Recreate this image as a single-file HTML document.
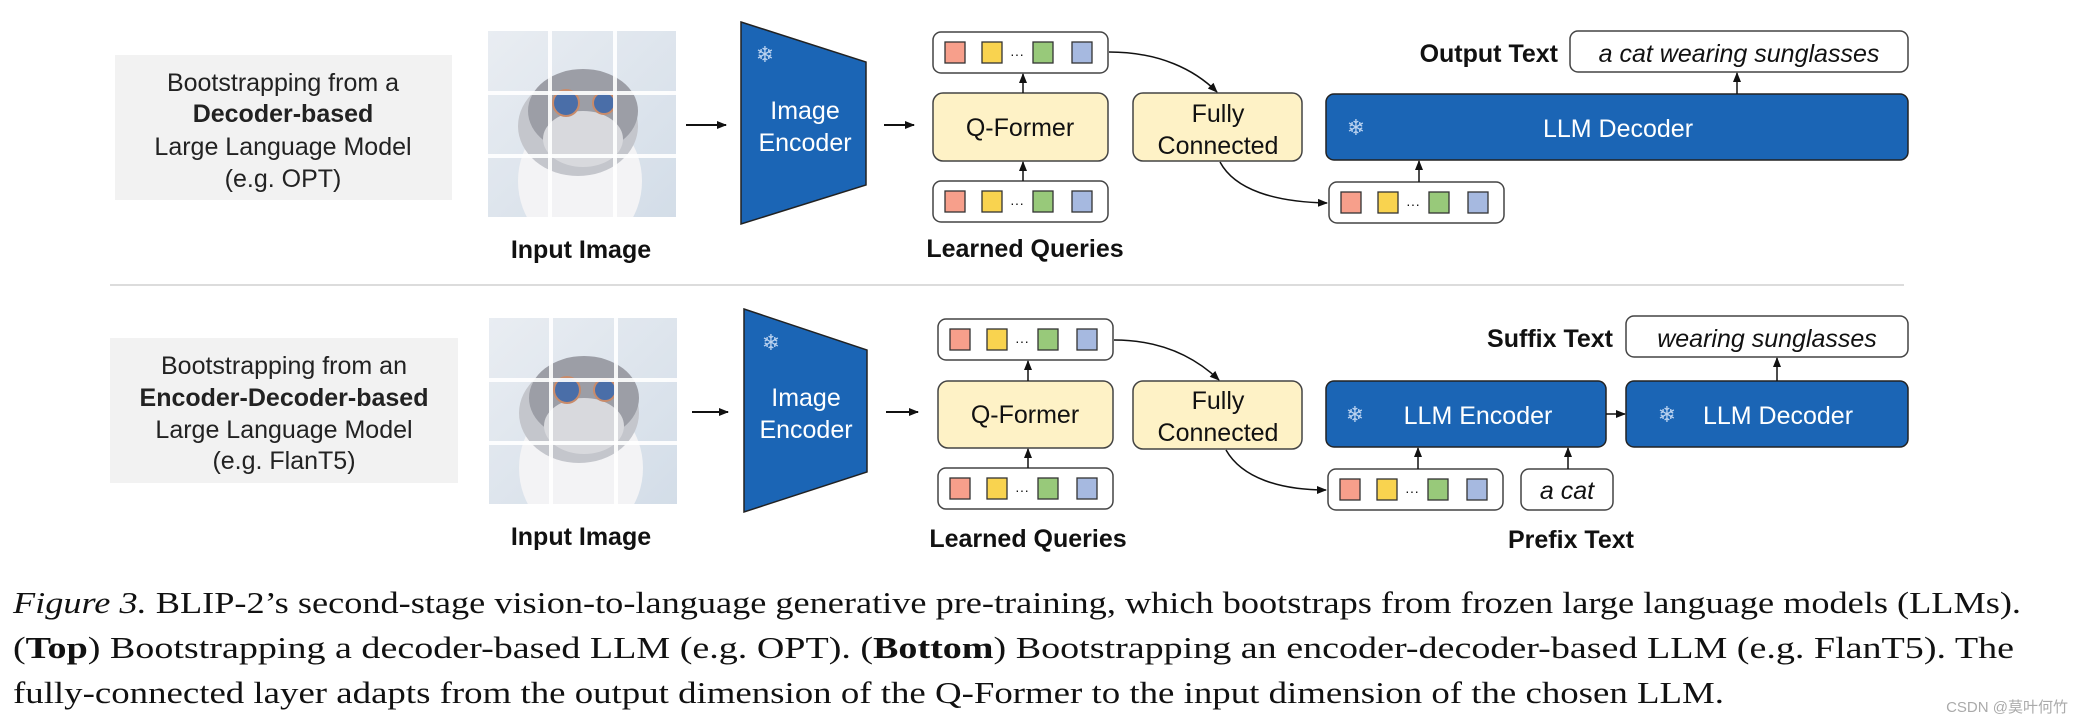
<!DOCTYPE html>
<html><head><meta charset="utf-8"><style>
html,body{margin:0;padding:0;background:#fff;}
svg{display:block;}
</style></head><body>
<svg width="2082" height="724" viewBox="0 0 2082 724" xmlns="http://www.w3.org/2000/svg" font-family="Liberation Sans, sans-serif">
<defs>
<marker id="ah" markerWidth="10" markerHeight="10" refX="9" refY="5" orient="auto" markerUnits="userSpaceOnUse">
<path d="M0,1 L10,5 L0,9 z" fill="#111"/></marker>
<linearGradient id="bg" x1="0" y1="0" x2="1" y2="1"><stop offset="0" stop-color="#e9edf2"/><stop offset="1" stop-color="#d3dde8"/></linearGradient>
<clipPath id="cc"><rect x="0" y="0" width="188" height="186"/></clipPath>
<g id="cat">
<g clip-path="url(#cc)">
<rect x="0" y="0" width="188" height="186" fill="url(#bg)"/>
<ellipse cx="92" cy="150" rx="62" ry="70" fill="#f3f3f5"/>
<ellipse cx="90" cy="95" rx="60" ry="50" fill="#c4c6cc"/>
<ellipse cx="95" cy="80" rx="55" ry="42" fill="#9c9ea6"/>
<ellipse cx="95" cy="108" rx="40" ry="28" fill="#d8d9dd"/>
<circle cx="78" cy="72" r="13" fill="#4a6ea8" stroke="#c98b6a" stroke-width="2"/>
<circle cx="116" cy="72" r="11" fill="#4a6ea8" stroke="#c98b6a" stroke-width="2"/>
<rect x="60" y="0" width="4" height="186" fill="#fff" opacity="0.9"/>
<rect x="125" y="0" width="4" height="186" fill="#fff" opacity="0.9"/>
<rect x="0" y="60" width="188" height="4" fill="#fff" opacity="0.9"/>
<rect x="0" y="123" width="188" height="4" fill="#fff" opacity="0.9"/>
</g>
</g>
<g id="tok">
<rect x="0" y="0" width="175" height="41" rx="8" fill="#fff" stroke="#444" stroke-width="1.5"/>
<rect x="12" y="10" width="20" height="21" fill="#F79F8B" stroke="#333" stroke-width="1.3"/>
<rect x="49" y="10" width="20" height="21" fill="#F9D34F" stroke="#333" stroke-width="1.3"/>
<text x="84" y="27" font-size="14" fill="#111" text-anchor="middle">···</text>
<rect x="100" y="10" width="20" height="21" fill="#98C97A" stroke="#333" stroke-width="1.3"/>
<rect x="139" y="10" width="20" height="21" fill="#A6B9E0" stroke="#333" stroke-width="1.3"/>
</g>
</defs>

<!-- ============ TOP ============ -->
<rect x="115" y="55" width="337" height="145" fill="#f2f2f2"/>
<g font-size="25" fill="#222" text-anchor="middle">
<text x="283" y="91">Bootstrapping from a</text>
<text x="283" y="122" font-weight="bold">Decoder-based</text>
<text x="283" y="155">Large Language Model</text>
<text x="283" y="187">(e.g. OPT)</text>
</g>
<use href="#cat" x="488" y="31"/>
<text x="581" y="258" font-size="25" font-weight="bold" text-anchor="middle" fill="#111">Input Image</text>
<line x1="686" y1="125" x2="726" y2="125" stroke="#111" stroke-width="2" marker-end="url(#ah)"/>
<polygon points="741,22 866,62 866,185 741,224" fill="#1B65B5" stroke="#222" stroke-width="1.5"/>
<text x="765" y="62" font-size="22" fill="#bcd3f0" text-anchor="middle" font-family="DejaVu Sans">❄</text>
<text x="805" y="119" font-size="25" fill="#fff" text-anchor="middle">Image</text>
<text x="805" y="151" font-size="25" fill="#fff" text-anchor="middle">Encoder</text>
<line x1="884" y1="125" x2="914" y2="125" stroke="#111" stroke-width="2" marker-end="url(#ah)"/>
<use href="#tok" x="933" y="32"/>
<rect x="933" y="93" width="175" height="68" rx="10" fill="#FEF2C6" stroke="#444" stroke-width="1.5"/>
<text x="1020" y="136" font-size="25" text-anchor="middle" fill="#111">Q-Former</text>
<use href="#tok" x="933" y="181"/>
<line x1="1023" y1="181" x2="1023" y2="162" stroke="#111" stroke-width="1.5" marker-end="url(#ah)"/>
<line x1="1023" y1="93" x2="1023" y2="74" stroke="#111" stroke-width="1.5" marker-end="url(#ah)"/>
<text x="1025" y="257" font-size="25" font-weight="bold" text-anchor="middle" fill="#111">Learned Queries</text>
<rect x="1133" y="93" width="169" height="68" rx="10" fill="#FEF2C6" stroke="#444" stroke-width="1.5"/>
<text x="1218" y="122" font-size="25" text-anchor="middle" fill="#111">Fully</text>
<text x="1218" y="154" font-size="25" text-anchor="middle" fill="#111">Connected</text>
<path d="M1109,52 C1160,52 1195,70 1217,92" fill="none" stroke="#111" stroke-width="1.5" marker-end="url(#ah)"/>
<path d="M1220,162 C1235,190 1275,202 1327,203" fill="none" stroke="#111" stroke-width="1.5" marker-end="url(#ah)"/>
<rect x="1326" y="94" width="582" height="66" rx="8" fill="#1B65B5" stroke="#222" stroke-width="1.5"/>
<text x="1356" y="135" font-size="22" fill="#bcd3f0" text-anchor="middle" font-family="DejaVu Sans">❄</text>
<text x="1618" y="137" font-size="25" fill="#fff" text-anchor="middle">LLM Decoder</text>
<use href="#tok" x="1329" y="182"/>
<line x1="1419" y1="182" x2="1419" y2="161" stroke="#111" stroke-width="1.5" marker-end="url(#ah)"/>
<rect x="1570" y="31" width="338" height="41" rx="8" fill="#fff" stroke="#444" stroke-width="1.5"/>
<text x="1739" y="62" font-size="25" font-style="italic" text-anchor="middle" fill="#111">a cat wearing sunglasses</text>
<text x="1558" y="62" font-size="25" font-weight="bold" text-anchor="end" fill="#111">Output Text</text>
<line x1="1737" y1="94" x2="1737" y2="73" stroke="#111" stroke-width="1.5" marker-end="url(#ah)"/>

<line x1="110" y1="285" x2="1904" y2="285" stroke="#d0d0d0" stroke-width="1.5"/>

<!-- ============ BOTTOM ============ -->
<rect x="110" y="338" width="348" height="145" fill="#f2f2f2"/>
<g font-size="25" fill="#222" text-anchor="middle">
<text x="284" y="374">Bootstrapping from an</text>
<text x="284" y="406" font-weight="bold">Encoder-Decoder-based</text>
<text x="284" y="438">Large Language Model</text>
<text x="284" y="469">(e.g. FlanT5)</text>
</g>
<use href="#cat" x="489" y="318"/>
<text x="581" y="545" font-size="25" font-weight="bold" text-anchor="middle" fill="#111">Input Image</text>
<line x1="692" y1="412" x2="728" y2="412" stroke="#111" stroke-width="2" marker-end="url(#ah)"/>
<polygon points="744,309 867,350 867,472 744,512" fill="#1B65B5" stroke="#222" stroke-width="1.5"/>
<text x="771" y="350" font-size="22" fill="#bcd3f0" text-anchor="middle" font-family="DejaVu Sans">❄</text>
<text x="806" y="406" font-size="25" fill="#fff" text-anchor="middle">Image</text>
<text x="806" y="438" font-size="25" fill="#fff" text-anchor="middle">Encoder</text>
<line x1="886" y1="412" x2="918" y2="412" stroke="#111" stroke-width="2" marker-end="url(#ah)"/>
<use href="#tok" x="938" y="319"/>
<rect x="938" y="381" width="175" height="67" rx="10" fill="#FEF2C6" stroke="#444" stroke-width="1.5"/>
<text x="1025" y="423" font-size="25" text-anchor="middle" fill="#111">Q-Former</text>
<use href="#tok" x="938" y="468"/>
<line x1="1028" y1="468" x2="1028" y2="449" stroke="#111" stroke-width="1.5" marker-end="url(#ah)"/>
<line x1="1028" y1="381" x2="1028" y2="361" stroke="#111" stroke-width="1.5" marker-end="url(#ah)"/>
<text x="1028" y="547" font-size="25" font-weight="bold" text-anchor="middle" fill="#111">Learned Queries</text>
<rect x="1133" y="381" width="169" height="68" rx="10" fill="#FEF2C6" stroke="#444" stroke-width="1.5"/>
<text x="1218" y="409" font-size="25" text-anchor="middle" fill="#111">Fully</text>
<text x="1218" y="441" font-size="25" text-anchor="middle" fill="#111">Connected</text>
<path d="M1114,340 C1165,340 1198,360 1219,380" fill="none" stroke="#111" stroke-width="1.5" marker-end="url(#ah)"/>
<path d="M1226,450 C1242,478 1280,490 1326,490" fill="none" stroke="#111" stroke-width="1.5" marker-end="url(#ah)"/>
<rect x="1326" y="381" width="280" height="66" rx="8" fill="#1B65B5" stroke="#222" stroke-width="1.5"/>
<text x="1355" y="422" font-size="22" fill="#bcd3f0" text-anchor="middle" font-family="DejaVu Sans">❄</text>
<text x="1478" y="424" font-size="25" fill="#fff" text-anchor="middle">LLM Encoder</text>
<line x1="1606" y1="414" x2="1625" y2="414" stroke="#111" stroke-width="1.5" marker-end="url(#ah)"/>
<rect x="1626" y="381" width="282" height="66" rx="8" fill="#1B65B5" stroke="#222" stroke-width="1.5"/>
<text x="1667" y="422" font-size="22" fill="#bcd3f0" text-anchor="middle" font-family="DejaVu Sans">❄</text>
<text x="1778" y="424" font-size="25" fill="#fff" text-anchor="middle">LLM Decoder</text>
<use href="#tok" x="1328" y="469"/>
<line x1="1418" y1="469" x2="1418" y2="448" stroke="#111" stroke-width="1.5" marker-end="url(#ah)"/>
<rect x="1521" y="469" width="92" height="41" rx="8" fill="#fff" stroke="#444" stroke-width="1.5"/>
<text x="1567" y="499" font-size="25" font-style="italic" text-anchor="middle" fill="#111">a cat</text>
<line x1="1568" y1="469" x2="1568" y2="448" stroke="#111" stroke-width="1.5" marker-end="url(#ah)"/>
<text x="1571" y="548" font-size="25" font-weight="bold" text-anchor="middle" fill="#111">Prefix Text</text>
<rect x="1626" y="316" width="282" height="41" rx="8" fill="#fff" stroke="#444" stroke-width="1.5"/>
<text x="1767" y="347" font-size="25" font-style="italic" text-anchor="middle" fill="#111">wearing sunglasses</text>
<text x="1613" y="347" font-size="25" font-weight="bold" text-anchor="end" fill="#111">Suffix Text</text>
<line x1="1777" y1="381" x2="1777" y2="358" stroke="#111" stroke-width="1.5" marker-end="url(#ah)"/>

<!-- ============ CAPTION ============ -->
<g font-family="Liberation Serif, serif" font-size="31" fill="#111">
<text x="13" y="613" textLength="2008" lengthAdjust="spacingAndGlyphs"><tspan font-style="italic">Figure 3.</tspan> BLIP-2’s second-stage vision-to-language generative pre-training, which bootstraps from frozen large language models (LLMs).</text>
<text x="13" y="658" textLength="2001" lengthAdjust="spacingAndGlyphs">(<tspan font-weight="bold">Top</tspan>) Bootstrapping a decoder-based LLM (e.g. OPT). (<tspan font-weight="bold">Bottom</tspan>) Bootstrapping an encoder-decoder-based LLM (e.g. FlanT5). The</text>
<text x="13" y="703" textLength="1711" lengthAdjust="spacingAndGlyphs">fully-connected layer adapts from the output dimension of the Q-Former to the input dimension of the chosen LLM.</text>
</g>
<text x="2068" y="712" font-size="15" fill="#aaa" text-anchor="end" font-family="Liberation Sans, Noto Sans CJK SC, sans-serif">CSDN @莫叶何竹</text>
</svg>
</body></html>
